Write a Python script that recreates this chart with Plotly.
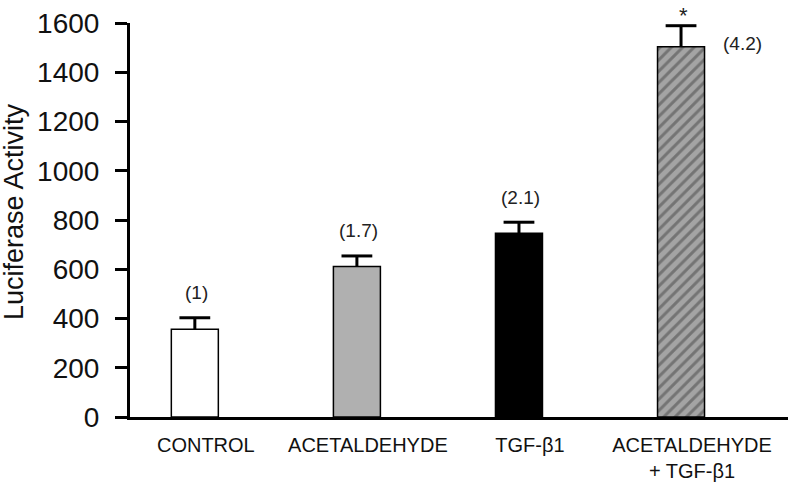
import plotly.graph_objects as go

categories = ["CONTROL", "ACETALDEHYDE", "TGF-β1", "ACETALDEHYDE<br>+ TGF-β1"]
values = [356, 611, 746, 1504]
errors = [47, 43, 45, 85]
fold_labels = ["(1)", "(1.7)", "(2.1)", "(4.2)"]
significance = ["", "", "", "*"]
y_ticks = [0, 200, 400, 600, 800, 1000, 1200, 1400, 1600]
y_title = "Luciferase Activity"

fill_colors = ["white", "#b0b0b0", "black", "#a4a4a4"]
patterns = ["", "", "", "/"]

x = list(range(len(categories)))
tops = [v + e for v, e in zip(values, errors)]

fig = go.Figure()
fig.add_trace(go.Bar(
    x=x, y=values, width=0.29,
    marker=dict(
        color=fill_colors,
        line=dict(color="black", width=1.5),
        pattern=dict(shape=patterns, fgcolor="black", bgcolor=fill_colors,
                     size=8, solidity=0.38, fillmode="overlay"),
    ),
    showlegend=False,
))
# upward-only error bars: stem from bar top to value+error, cap at the top
fig.add_trace(go.Scatter(
    x=x, y=tops, mode="markers",
    marker=dict(symbol="line-ew", size=22, color="black",
                line=dict(color="black", width=3)),
    error_y=dict(type="data", array=[0]*4, arrayminus=errors, symmetric=False,
                 visible=True, color="black", thickness=3, width=0),
    showlegend=False, hoverinfo="skip",
))

FONT = "Liberation Sans, Arial, sans-serif"
font_ann = dict(family=FONT, size=19, color="#222")
for i, (v, t) in enumerate(zip(values, fold_labels)):
    if i < 3:
        fig.add_annotation(x=i, y=tops[i], text=t, showarrow=False, yshift=25,
                           xshift=2, font=font_ann)
    else:
        fig.add_annotation(x=i, y=v, text=t, showarrow=False, xshift=61,
                           yshift=3, font=font_ann)
    if significance[i]:
        fig.add_annotation(x=i, y=tops[i], text=significance[i], showarrow=False,
                           yshift=10, xshift=2,
                           font=dict(family=FONT, size=22, color="#222"))

# y-axis title
fig.add_annotation(xref="paper", yref="paper", x=0, y=0.5, xshift=-116, yshift=8,
                   xanchor="center", yanchor="middle",
                   text=y_title, textangle=-90, showarrow=False,
                   font=dict(family=FONT, size=27, color="#111"))

fig.update_layout(
    width=788, height=484,
    margin=dict(l=130, r=0, t=23, b=67),
    plot_bgcolor="white", paper_bgcolor="white",
    xaxis=dict(
        range=[-0.4, 3.66], tickmode="array", tickvals=x, ticktext=categories,
        showline=True, linecolor="black", linewidth=2.5, ticks="",
        showgrid=False, zeroline=False, automargin=False,
        tickfont=dict(family=FONT, size=20, color="#111"),
        ticklabelshift=11, ticklabelstandoff=8,
    ),
    yaxis=dict(
        range=[0, 1600], tickmode="array", tickvals=y_ticks,
        showline=True, linecolor="black", linewidth=3,
        ticks="outside", ticklen=12, tickwidth=2.5, tickcolor="black",
        showgrid=False, zeroline=False, automargin=False,
        tickfont=dict(family=FONT, size=28, color="#111"),
        ticklabelstandoff=10, ticklabeloverflow="allow",
    ),
)

fig.write_html("out.html", config={"displayModeBar": False},
               post_script="document.body.style.margin='0';")
